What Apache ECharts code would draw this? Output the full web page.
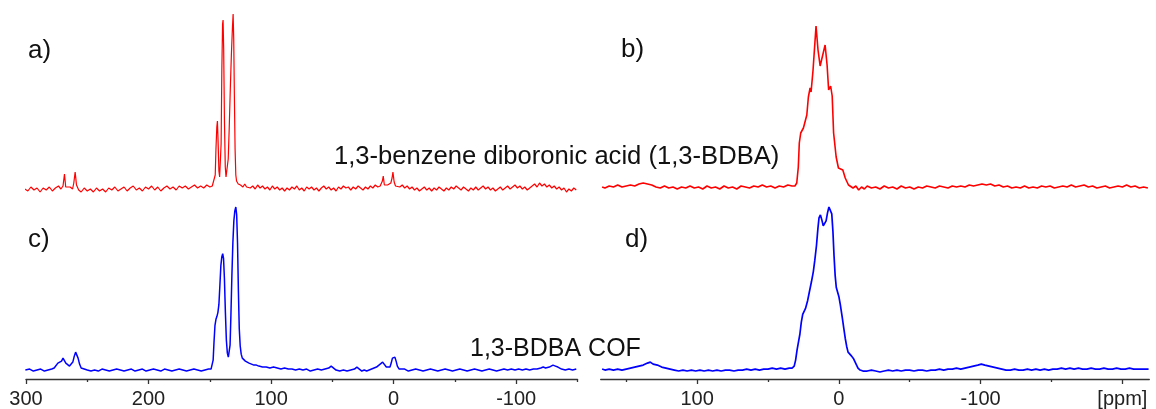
<!DOCTYPE html>
<html>
<head>
<meta charset="utf-8">
<script src="https://cdn.jsdelivr.net/npm/echarts@6/dist/echarts.min.js"></script>
<style>
  html, body { margin: 0; padding: 0; background: #fff; }
  #chart { width: 1156px; height: 409px; }
</style>
</head>
<body>
<div id="chart"></div>
<script>
// Solid-state NMR spectra: [chemical shift (ppm), intensity above baseline]
// a) 13C of 1,3-benzene diboronic acid
const bdbaCarbon = [
  [301,0],[298.5,-2],[296,2],[293.5,-1],[291,1],[288.5,-3],[286,1],[283.5,-1],[281,2],[278.5,-2],[276,1],[273.5,3],[271.5,0],
  [269.8,3],[268.6,15],[267.6,2],[266,0],[264,2],[262,0],[261,6],[259.9,17],[258.8,4],[257,-1],[255,-3],[252.5,1],[250,-2],
  [247.5,0],[245,-3],[242.5,1],[240,-2],[237.5,0],[235,-3],[232.5,1],[230,-1],[227.5,2],[225,-2],[222.5,0],[220,2],[217.5,-2],
  [215,1],[212.5,3],[210,-1],[207.5,1],[205,-2],[202.5,2],[200,0],[197.5,3],[195,-1],[192.5,2],[190,-2],[187.5,1],[185,3],
  [182.5,0],[180,2],[177.5,-1],[175,3],[172.5,1],[170,3],[167.5,0],[165,2],[162.5,4],[160,1],[157.5,3],[155,1],[152.5,4],
  [150,2],[148,3],[147.2,2],[146.5,4],[145.6,14],[145,40],[144.3,62],[143.8,68],[143.2,45],[142.6,18],[142,12],[141.5,14],
  [140.8,45],[140.2,120],[139.6,165],[139.2,169],[138.7,140],[138.1,70],[137.4,22],[136.8,12],[136.2,10],[135.6,13],[135,30],
  [134.2,60],[133.3,100],[132.4,135],[131.6,160],[131,175],[130.5,150],[130,95],[129.4,40],[128.8,14],[128.2,8],[127.5,10],
  [126.8,5],[126,7],[125,4],[124,6],[123,2],[121.5,5],[120,2],[118.5,4],[117,1],[115,3],[113,0],[111,4],[109,1],[107,3],
  [105,0],[103,2],[101,-1],[99,3],[97,0],[95,2],[93,-1],[91,1],[89,-2],[87,1],[85,-1],[83,2],[81,0],[79,3],[77,-1],[75,1],
  [73,-2],[71,2],[69,0],[67,2],[65,-1],[63,1],[61,-2],[59,1],[57,3],[55,0],[53,2],[51,-1],[49,1],[47,-2],[45,2],[43,0],
  [41,3],[39,1],[37,2],[35,-1],[33,2],[31,0],[29,3],[27,1],[25,-1],[23,2],[21,0],[19,3],[17,1],[15,4],[13,2],[11,3],
  [10,5],[9.2,8],[8.5,13],[7.6,4],[6.5,2],[5,4],[3.5,2],[2.3,6],[1.3,11],[0.6,17],[-0.4,7],[-1.5,3],[-3,5],[-5,2],[-7,4],
  [-9,1],[-11,3],[-13,0],[-15,2],[-17,-1],[-19,1],[-21,-2],[-23,0],[-25,2],[-27,-1],[-29,1],[-31,-2],[-33,1],[-35,-1],
  [-37,2],[-39,0],[-41,-2],[-43,1],[-45,-1],[-47,2],[-49,0],[-51,3],[-53,1],[-55,-1],[-57,2],[-59,0],[-61,-2],[-63,1],
  [-65,-1],[-67,2],[-69,-1],[-71,1],[-73,3],[-75,0],[-77,2],[-79,-1],[-81,1],[-83,-2],[-85,0],[-87,2],[-89,-1],[-91,1],
  [-93,3],[-95,0],[-97,2],[-99,4],[-101,1],[-103,3],[-105,0],[-107,2],[-109,-1],[-111,1],[-113,3],[-115,5],[-117,2],
  [-119,6],[-121,3],[-123,5],[-125,2],[-127,4],[-129,1],[-131,3],[-133,0],[-135,2],[-137,-1],[-139,1],[-141,-3],[-143,0],
  [-145,-2],[-147,1],[-149,-1]
];

// b) 11B of 1,3-benzene diboronic acid
const bdbaBoron = [
  [167,0],[165,-1],[162,1],[159,0],[156,2],[153,0],[150,1],[147,2],[144,1],[141,3],[138,4],[135,3],[132,2],[129,0],
  [126,-1],[123,1],[120,-1],[117,0],[114,-2],[111,0],[108,-1],[105,1],[102,-1],[99,0],[96,-2],[93,1],[90,-1],[87,0],
  [84,-2],[81,1],[78,-1],[75,0],[72,-2],[69,1],[66,0],[63,-1],[60,1],[57,0],[54,2],[51,0],[48,1],[45,-1],[42,1],[39,0],
  [36,2],[33,1],[31,1],[30.9,0],[29.7,4],[28.6,20],[27.9,44],[26.9,54],[25,59],[22.6,72],[21.5,90],[20.3,99],[19.6,95],
  [18.2,117],[16.1,161],[14.7,137],[13.2,121],[11.8,119],[9.7,142],[8.3,122],[7.2,97],[5.8,101],[4.7,91],[3.7,54],
  [1.9,30],[0.3,19],[-2.8,17],[-4.5,9],[-6.8,2],[-10,-1],[-12,1],[-14,-3],[-16,0],[-18,-2],[-20,1],[-23,-1],[-26,0],
  [-29,-2],[-32,1],[-35,-1],[-38,0],[-41,-2],[-44,1],[-47,-1],[-50,0],[-53,-2],[-56,0],[-59,-1],[-62,1],[-65,0],[-68,-1],
  [-71,1],[-74,0],[-77,-1],[-80,1],[-83,0],[-86,1],[-89,0],[-92,2],[-95,1],[-98,2],[-101,3],[-104,2],[-107,3],[-110,1],
  [-113,2],[-116,0],[-119,1],[-122,-1],[-125,0],[-128,-1],[-131,1],[-134,-1],[-137,0],[-140,-1],[-143,1],[-146,0],
  [-149,1],[-152,-1],[-155,0],[-158,1],[-161,0],[-164,2],[-167,0],[-170,1],[-173,2],[-176,0],[-179,1],[-182,-1],
  [-185,0],[-188,1],[-191,-1],[-194,0],[-197,1],[-200,0],[-203,2],[-206,0],[-209,1],[-212,-1],[-215,0],[-218,-1]
];

// c) 13C of 1,3-BDBA COF
const cofCarbon = [
  [300.5,0],[297,1],[294,-1],[291,0],[288,1],[285,-1],[282,0],[279,1],[277,2],[275.5,4],[274,7],[272.5,8],[271,9],
  [269.8,12],[268.8,11],[267.5,7],[266,5],[264.5,4],[263,4],[261.8,8],[260.6,14],[259.5,18],[258.5,17],[257.5,12],
  [256.3,6],[255,2],[254,0],[252.5,1],[251,2.5],[250,0],[247,-1],[244,0],[241,-1],[238,1],[235,0],[232,-1],[229,0],
  [226,1],[223,0],[220,-1],[217,0],[214,1],[211,-1],[208,0],[205,1],[202,-1],[199,0],[196,1],[193,0],[190,-1],[187,1],
  [184,0],[181,-1],[178,0],[175,1],[172,0],[169,-1],[166,0],[163,1],[160,0],[157,-1],[154,0],[151,1],[149,1],[148,3],
  [147.3,10],[146.6,28],[145.8,45],[145,51],[144.2,54],[143.4,58],[142.6,66],[141.8,85],[141,105],[140.2,114],
  [139.5,117],[138.8,112],[138.1,92],[137.3,58],[136.5,30],[135.7,17],[134.9,13],[134.2,15],[133.5,25],[132.8,55],
  [132,95],[131.2,128],[130.4,150],[129.6,160],[128.8,164],[128.1,156],[127.4,128],[126.7,80],[126,42],[125.2,24],
  [124.4,16],[123.5,12],[122.5,10],[121,9],[119.5,8],[118,7],[116,6],[114,5],[112,5],[110,4],[107,3],[104,3],[101,2],
  [98,3],[95,2],[92,1],[89,2],[86,1],[83,1],[80,0],[77,1],[74,0],[71,1],[68,-1],[65,0],[62,1],[59,0],[56,1],[53,2],
  [51,4],[49,2],[47,0],[44,-1],[41,0],[38,-1],[35,0],[32,1],[30,3],[28,1],[26,-1],[24,0],[22,-1],[20,0],[18,1],[16,2],
  [14,3],[12,5],[10.5,7],[9,8],[7.5,6],[6,3],[4.5,2],[3,3],[2,7],[1,12],[0,14],[-1,13],[-2,9],[-3,4],[-4.5,1],[-6,0],
  [-9,1],[-12,-1],[-15,0],[-18,1],[-21,0],[-24,-1],[-27,0],[-30,1],[-33,0],[-36,-1],[-39,0],[-42,1],[-45,0],[-48,-1],
  [-51,0],[-54,1],[-57,0],[-60,-1],[-63,0],[-66,1],[-69,0],[-72,-1],[-75,0],[-78,1],[-81,0],[-84,-1],[-87,0],[-90,1],
  [-93,0],[-96,1],[-99,0],[-102,1],[-105,0],[-108,1],[-111,0],[-114,1],[-117,1],[-120,2],[-122,3],[-124,2],[-127,3],
  [-130,5],[-132,4],[-134,3],[-137,1],[-140,0],[-143,1],[-146,0],[-149,1]
];

// d) 11B of 1,3-BDBA COF
const cofBoron = [
  [167,1],[165,0],[162,1],[159,0],[156,1],[153,0],[150,1],[147,2],[144,3],[141,4],[138,5],[135,7],[133,8],[131,6],
  [128,5],[125,3],[122,2],[119,1],[116,0],[113,-1],[110,0],[107,-1],[104,0],[101,-1],[98,0],[95,-1],[92,0],[89,-1],
  [86,0],[83,-1],[80,0],[77,0],[74,-1],[71,0],[68,0],[65,1],[62,0],[59,1],[56,0],[53,1],[50,1],[47,2],[44,1],[41,2],
  [38,1],[35,2],[33,2],[31.5,4],[30.5,10],[29.5,20],[28.5,28],[27.5,36],[26.5,48],[25.5,56],[24.7,58],[23.5,62],
  [22,70],[20.6,80],[19.3,89],[18,99],[17,110],[15.8,125],[14.8,142],[14,153],[13,156],[12,151],[11,145],[10.1,143],
  [9,150],[8,158],[7,164],[6,165],[5,157],[4.2,140],[3.4,115],[2.6,95],[1.8,83],[1,79],[0,74],[-1,66],[-2.5,52],
  [-3.5,42],[-4.5,32],[-5.5,24],[-6.5,18],[-7.5,16],[-9,14],[-10.5,11],[-11.5,8],[-12.5,5],[-13.5,2],[-15,0],[-17,-1],
  [-20,-1],[-23,0],[-26,-1],[-29,-2],[-32,-1],[-35,0],[-38,-1],[-41,0],[-44,-1],[-47,0],[-50,0],[-53,-1],[-56,0],
  [-59,0],[-62,-1],[-65,0],[-68,0],[-71,1],[-74,0],[-77,1],[-80,1],[-83,2],[-86,1],[-89,2],[-92,3],[-95,4],[-98,5],
  [-100.5,6],[-103,5],[-106,4],[-109,3],[-112,2],[-115,1],[-118,0],[-121,0],[-124,1],[-127,0],[-130,0],[-133,1],
  [-136,0],[-139,1],[-142,0],[-145,1],[-148,0],[-151,1],[-154,1],[-157,2],[-160,1],[-163,2],[-166,1],[-169,2],
  [-172,1],[-175,1],[-178,2],[-181,1],[-184,1],[-187,2],[-190,1],[-193,1],[-196,2],[-199,1],[-202,1],[-205,2],
  [-208,1],[-211,1],[-214,1],[-217,1],[-218.5,1]
];

// axis ranges and ticks
const carbonRange = [-150, 300];
const carbonMajorTicks = [300, 200, 100, 0, -100];
const carbonMinorTicks = [250, 150, 50, -50, -150];
const boronRange = [-219, 168];
const boronMajorTicks = [100, 0, -100, -200];
const boronMinorTicks = [150, 50, -50, -150];
const unitLabel = '[ppm]';

const panelLabels = ['a)', 'b)', 'c)', 'd)'];
const sampleNames = ['1,3-benzene diboronic acid (1,3-BDBA)', '1,3-BDBA COF'];

const FONT = '"Liberation Sans", Arial, Helvetica, sans-serif';
const RED = '#ff0000';
const BLUE = '#0000ff';
const AXIS_COLOR = '#333';

const chart = echarts.init(document.getElementById('chart'), null, { renderer: 'canvas' });

const L_LEFT = 26, L_WIDTH = 551.5;
const R_LEFT = 600.7, R_WIDTH = 548.6;

function hiddenX(grid, range) {
  return { type: 'value', gridIndex: grid, min: range[0], max: range[1], inverse: true, show: false };
}
function majorX(grid, range, ticks, fmt) {
  return {
    type: 'value', gridIndex: grid, position: 'bottom', min: range[0], max: range[1], inverse: true,
    axisLine: { show: true, onZero: false, lineStyle: { color: AXIS_COLOR, width: 1.3 } },
    axisTick: { show: true, customValues: ticks, length: 5, lineStyle: { color: AXIS_COLOR, width: 1.3 } },
    axisLabel: { show: true, customValues: ticks, margin: 10, color: '#222', fontSize: 20, fontFamily: FONT,
                 formatter: fmt || (v => String(v)) },
    splitLine: { show: false }
  };
}
function minorX(grid, range, ticks) {
  return {
    type: 'value', gridIndex: grid, position: 'bottom', min: range[0], max: range[1], inverse: true,
    axisLine: { show: false, onZero: false },
    axisTick: { show: true, customValues: ticks, length: 3, lineStyle: { color: AXIS_COLOR, width: 1.3 } },
    axisLabel: { show: false },
    splitLine: { show: false }
  };
}
function hiddenY(grid, min, max) {
  return { type: 'value', gridIndex: grid, min: min, max: max, show: false };
}
function spectrum(data, xi, yi, color, width) {
  return {
    type: 'line', data: data, xAxisIndex: xi, yAxisIndex: yi, showSymbol: false, symbol: 'none',
    silent: true, lineStyle: { color: color, width: width }, clip: false
  };
}
function label(text, x, y, size) {
  return { type: 'text', x: x, y: y, silent: true,
           style: { text: text, font: size + 'px ' + FONT, fill: '#111', textVerticalAlign: 'middle' } };
}

chart.setOption({
  animation: false,
  backgroundColor: '#fff',
  grid: [
    { left: L_LEFT, width: L_WIDTH, top: 0, height: 200 },
    { left: R_LEFT, width: R_WIDTH, top: 0, height: 200 },
    { left: L_LEFT, width: L_WIDTH, top: 200, height: 180 },
    { left: R_LEFT, width: R_WIDTH, top: 200, height: 180 }
  ],
  xAxis: [
    hiddenX(0, carbonRange),
    hiddenX(1, boronRange),
    majorX(2, carbonRange, carbonMajorTicks),
    majorX(3, boronRange, boronMajorTicks, v => (v === -200 ? unitLabel : String(v))),
    minorX(2, carbonRange, carbonMinorTicks),
    minorX(3, boronRange, boronMinorTicks)
  ],
  yAxis: [
    hiddenY(0, -11, 189),
    hiddenY(1, -13, 187),
    hiddenY(2, -9, 171),
    hiddenY(3, -9, 171)
  ],
  series: [
    spectrum(bdbaCarbon, 0, 0, RED, 1.2),
    spectrum(bdbaBoron, 1, 1, RED, 1.6),
    spectrum(cofCarbon, 2, 2, BLUE, 1.5),
    spectrum(cofBoron, 3, 3, BLUE, 1.7)
  ],
  graphic: [
    label(panelLabels[0], 28, 51, 26),
    label(panelLabels[1], 621, 50, 26),
    label(panelLabels[2], 28, 240, 26),
    label(panelLabels[3], 625, 240, 26),
    label(sampleNames[0], 334, 157, 25.6),
    label(sampleNames[1], 470, 349, 25)
  ]
});
</script>
</body>
</html>
